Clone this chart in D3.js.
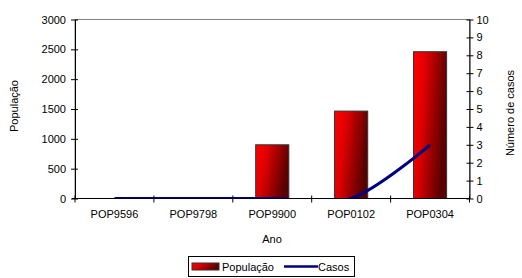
<!DOCTYPE html>
<html>
<head>
<meta charset="utf-8">
<script src="https://cdn.jsdelivr.net/npm/d3@7"></script>
<style>
body { margin: 0; background: #fff; }
text { font-family: "Liberation Sans", Arial, sans-serif; font-size: 11px; fill: #000; }
</style>
</head>
<body>
<svg width="522" height="278"></svg>
<script>
var categories = ["POP9596", "POP9798", "POP9900", "POP0102", "POP0304"];
var populacao = [0, 0, 900, 1465, 2460];
var casos = [0, 0, 0, 0, 3];
var leftTicks = [0, 500, 1000, 1500, 2000, 2500, 3000];
var rightTicks = [0, 1, 2, 3, 4, 5, 6, 7, 8, 9, 10];

var svg = d3.select("svg");
var plotLeft = 75, plotRight = 469.5, plotTop = 19.5, plotBottom = 198.5;

var x = d3.scaleBand().domain(categories).range([plotLeft, plotRight]);
var yL = d3.scaleLinear().domain([0, 3000]).range([plotBottom, plotTop]);
var yR = d3.scaleLinear().domain([0, 10]).range([plotBottom, plotTop]);

var defs = svg.append("defs");
var grad = defs.append("linearGradient").attr("id", "barGrad")
    .attr("x1", "0").attr("y1", "0").attr("x2", "1").attr("y2", "0.3");
grad.append("stop").attr("offset", "0").attr("stop-color", "#ff0000");
grad.append("stop").attr("offset", "0.35").attr("stop-color", "#e00000");
grad.append("stop").attr("offset", "1").attr("stop-color", "#5a0000");
defs.append("clipPath").attr("id", "plotClip").append("rect")
    .attr("x", plotLeft).attr("y", plotTop)
    .attr("width", plotRight - plotLeft).attr("height", plotBottom - plotTop);

// plot border
svg.append("rect").attr("x", plotLeft).attr("y", plotTop)
    .attr("width", plotRight - plotLeft).attr("height", plotBottom - plotTop)
    .attr("fill", "none").attr("stroke", "#808080").attr("stroke-width", 1);

// bars
var bw = x.bandwidth() * 0.42;
svg.selectAll("rect.bar")
    .data(populacao)
    .enter()
    .append("rect")
    .attr("class", "bar")
    .attr("x", function (d, i) { return x(categories[i]) + (x.bandwidth() - bw) / 2; })
    .attr("y", function (d) { return yL(d); })
    .attr("width", bw)
    .attr("height", function (d) { return plotBottom - yL(d); })
    .attr("fill", "url(#barGrad)")
    .attr("stroke", "#333")
    .attr("stroke-width", 1)
    .style("display", function (d) { return d > 0 ? null : "none"; });

// axes
var xAxis = d3.axisBottom(x).tickSize(0).tickPadding(12);
svg.append("g").attr("transform", "translate(0," + plotBottom + ")").call(xAxis)
    .call(function (g) { g.select(".domain").remove(); })
    .attr("font-family", null).attr("font-size", null);

svg.append("line").attr("x1", plotLeft - 3).attr("x2", plotRight).attr("y1", plotBottom).attr("y2", plotBottom)
    .attr("stroke", "#000");
var edges = categories.map(function (c) { return x(c); }).concat([plotRight]);
svg.selectAll("line.xt").data(edges).enter().append("line").attr("class", "xt")
    .attr("x1", function (d) { return d; }).attr("x2", function (d) { return d; })
    .attr("y1", plotBottom - 3).attr("y2", plotBottom + 4).attr("stroke", "#000");

var yAxisL = d3.axisLeft(yL).tickValues(leftTicks).tickFormat(d3.format("d"))
    .tickSizeInner(4).tickSizeOuter(0).tickPadding(5);
var gL = svg.append("g").attr("transform", "translate(" + plotLeft + ",0)").call(yAxisL)
    .attr("font-family", null).attr("font-size", null);
gL.selectAll(".tick line").attr("x2", -4).attr("x1", 3);
gL.select(".domain").attr("stroke", "#000");

var yAxisR = d3.axisRight(yR).tickValues(rightTicks).tickFormat(d3.format("d"))
    .tickSizeInner(4).tickSizeOuter(0).tickPadding(3);
var gR = svg.append("g").attr("transform", "translate(" + plotRight + ",0)").call(yAxisR)
    .attr("font-family", null).attr("font-size", null);
gR.selectAll(".tick line").attr("x2", 4).attr("x1", -3);

// line
var line = d3.line()
    .x(function (d, i) { return x(categories[i]) + x.bandwidth() / 2; })
    .y(function (d) { return yR(d); })
    .curve(d3.curveCatmullRom.alpha(0));
svg.append("path").datum(casos)
    .attr("clip-path", "url(#plotClip)")
    .attr("d", line)
    .attr("fill", "none").attr("stroke", "#000080").attr("stroke-width", 3);

// titles
svg.append("text").attr("x", 272).attr("y", 243).attr("text-anchor", "middle").text("Ano");
svg.append("text").attr("transform", "translate(18,106) rotate(-90)")
    .attr("text-anchor", "middle").text("População");
svg.append("text").attr("transform", "translate(514,113) rotate(-90)")
    .attr("text-anchor", "middle").text("Número de casos");

// legend
var lg = svg.append("g");
lg.append("rect").attr("x", 188.5).attr("y", 256.5).attr("width", 166).attr("height", 20)
    .attr("fill", "#fff").attr("stroke", "#000");
lg.append("rect").attr("x", 192).attr("y", 263).attr("width", 27).attr("height", 7)
    .attr("fill", "url(#barGrad)").attr("stroke", "#333");
lg.append("text").attr("x", 222).attr("y", 270.5).attr("font-size", "12px").text("População");
lg.append("line").attr("x1", 284).attr("x2", 318).attr("y1", 266.5).attr("y2", 266.5)
    .attr("stroke", "#000080").attr("stroke-width", 2.5);
lg.append("text").attr("x", 318).attr("y", 270.5).attr("font-size", "12px").text("Casos");
</script>
</body>
</html>
